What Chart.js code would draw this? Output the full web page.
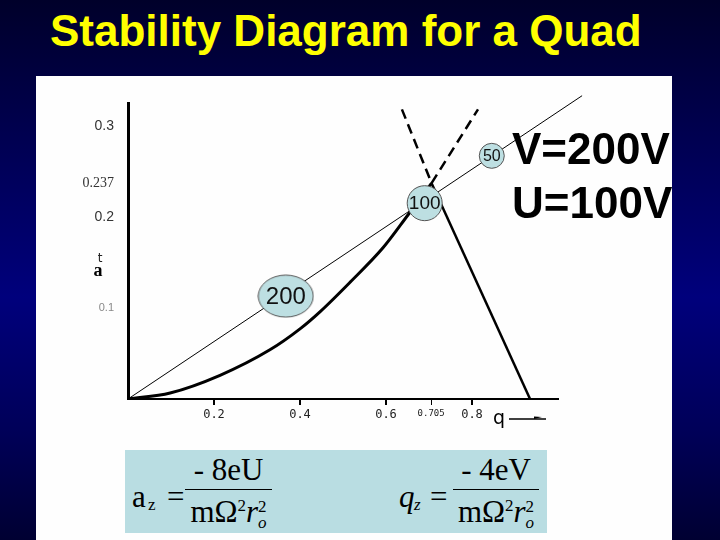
<!DOCTYPE html>
<html>
<head>
<meta charset="utf-8">
<script src="https://cdn.jsdelivr.net/npm/chart.js@4.4.0/dist/chart.umd.min.js"></script>
<style>
  html, body { margin: 0; padding: 0; }
  body {
    width: 720px; height: 540px; position: relative; overflow: hidden;
    background: linear-gradient(to bottom, #00002a 0%, #000050 25%, #00007c 55%, #000058 80%, #000032 100%);
    font-family: "Liberation Sans", Arial, sans-serif;
  }
  #title {
    position: absolute; left: 50px; top: 9px;
    font-size: 44px; font-weight: bold; line-height: 1; color: #ffff00; white-space: nowrap;
  }
  #panel { position: absolute; left: 36px; top: 76px; width: 636px; height: 464px; background: #fefefe; }
  .volt {
    position: absolute; left: 512px; font-size: 44px; font-weight: bold; line-height: 1;
    color: #000; white-space: nowrap;
  }
  #formulas { position: absolute; left: 125px; top: 450px; width: 422px; height: 83px; background: #b9dde2; }
  .f { position: absolute; font-family: "Liberation Serif", "Times New Roman", serif; font-size: 31px;
       line-height: 1; color: #000; white-space: nowrap; }
  .sub { font-size: 17px; }
  .bar { position: absolute; height: 0; border-top: 1.5px solid #000; }
  .ss { display: inline-block; vertical-align: -6px; font-size: 17px; line-height: 0.95; text-align: left; }
  .ss span { display: block; }
</style>
</head>
<body>
<div id="title">Stability Diagram for a Quad</div>
<div id="panel"><canvas id="chart" width="636" height="464"></canvas></div>
<div class="volt" style="top:127px">V=200V</div>
<div class="volt" style="top:181px">U=100V</div>
<div id="formulas">
  <div class="f" style="left:7px; top:31px">a</div>
  <div class="f sub" style="left:23px; top:46px">z</div>
  <div class="f" style="left:42px; top:31px">=</div>
  <div class="f" style="left:60px; top:4px; width:87px; text-align:center">- 8eU</div>
  <div class="bar" style="left:60px; top:39px; width:87px"></div>
  <div class="f" style="left:60px; top:46px; width:87px; text-align:center">m&Omega;<sup style="font-size:17px">2</sup><i>r</i><span class="ss"><span>2</span><span><i>o</i></span></span></div>

  <div class="f" style="left:274px; top:31px"><i>q</i></div>
  <div class="f sub" style="left:289px; top:46px"><i>z</i></div>
  <div class="f" style="left:305px; top:31px">=</div>
  <div class="f" style="left:328px; top:4px; width:86px; text-align:center">- 4eV</div>
  <div class="bar" style="left:328px; top:39px; width:86px"></div>
  <div class="f" style="left:328px; top:46px; width:86px; text-align:center">m&Omega;<sup style="font-size:17px">2</sup><i>r</i><span class="ss"><span>2</span><span><i>o</i></span></span></div>
</div>
<script>
// tick positions on q and a axes
const qTickValues = [0.2, 0.4, 0.6, 0.705, 0.8];
const qTickLabels = ['0.2', '0.4', '0.6', '0.705', '0.8'];
const aTickValues = [0.1, 0.2, 0.237, 0.3];
const aTickLabels = ['0.1', '0.2', '0.237', '0.3'];

// left boundary of the stability region
const leftEdgeQ = [0, 0.098, 0.214, 0.330, 0.400, 0.447, 0.516, 0.593, 0.651, 0.706];
const leftEdgeA = [0, 0.0066, 0.026, 0.054, 0.077, 0.096, 0.128, 0.166, 0.202, 0.237];
// right boundary
const rightEdgeQ = [0.706, 0.935];
const rightEdgeA = [0.237, 0];
// dashed continuations above the apex
const dashLeftQ = [0.637, 0.706];
const dashLeftA = [0.318, 0.237];
const dashRightQ = [0.706, 0.814];
const dashRightA = [0.237, 0.318];
// scan line (fixed U/V)
const scanQ = [0, 1.056];
const scanA = [0, 0.333];
// masses sitting on the scan line
const massLabels = ['200', '100', '50'];
const massQ = [0.367, 0.690, 0.846];
const massA = [0.113, 0.215, 0.267];

const toPoints = (qs, as) => qs.map((q, i) => ({ x: q, y: as[i] }));

// the 200 marker is a slightly flattened ellipse in the original
function ellipseMarker(w, h) {
    const c = document.createElement('canvas');
    c.width = w + 2;
    c.height = h + 2;
    const g = c.getContext('2d');
    g.beginPath();
    g.ellipse(c.width / 2, c.height / 2, w / 2, h / 2, 0, 0, Math.PI * 2);
    g.fillStyle = '#bddfe2';
    g.fill();
    g.lineWidth = 1;
    g.strokeStyle = '#555';
    g.stroke();
    return c;
}

const labelPlugin = {
    id: 'labelPlugin',
    afterDatasetsDraw(chart) {
        const ctx = chart.ctx;
        const meta = chart.getDatasetMeta(0);
        const sizes = [24, 19, 16];
        ctx.save();
        ctx.fillStyle = '#111';
        ctx.textAlign = 'center';
        ctx.textBaseline = 'middle';
        meta.data.forEach((pt, i) => {
            ctx.font = sizes[i] + 'px "Liberation Sans"';
            ctx.fillText(massLabels[i], pt.x, pt.y + 1);
        });

        // axis names: small "t" over bold "a", and "q" with an arrow
        const area = chart.chartArea;
        ctx.font = '12px "DejaVu Sans"';
        ctx.fillStyle = '#222';
        ctx.fillText('t', area.left - 28, area.bottom - 140);
        ctx.font = 'bold 18px "Liberation Serif"';
        ctx.fillStyle = '#000';
        ctx.fillText('a', area.left - 30, area.bottom - 128);

        ctx.font = '19px "DejaVu Sans"';
        ctx.fillText('q', area.left + 371, area.bottom + 20);
        ctx.beginPath();
        ctx.moveTo(area.left + 381, area.bottom + 20);
        ctx.lineTo(area.left + 418, area.bottom + 20);
        ctx.lineWidth = 1.5;
        ctx.strokeStyle = '#000';
        ctx.stroke();
        ctx.beginPath();
        ctx.moveTo(area.left + 414, area.bottom + 18);
        ctx.lineTo(area.left + 406, area.bottom + 17.5);
        ctx.lineTo(area.left + 406, area.bottom + 20);
        ctx.closePath();
        ctx.fill();
        ctx.restore();
    }
};

new Chart(document.getElementById('chart'), {
    type: 'line',
    data: {
        datasets: [
            {
                label: 'masses',
                data: toPoints(massQ, massA),
                showLine: false,
                pointStyle: [ellipseMarker(55, 42), 'circle', 'circle'],
                pointRadius: [21, 17.5, 12.5],
                pointBackgroundColor: '#bddfe2',
                pointBorderColor: '#555',
                pointBorderWidth: 1,
                clip: false
            },
            {
                label: 'scan',
                data: toPoints(scanQ, scanA),
                borderColor: '#000',
                borderWidth: 1,
                pointRadius: 0,
                clip: false
            },
            {
                label: 'left edge',
                data: toPoints(leftEdgeQ, leftEdgeA),
                borderColor: '#000',
                borderWidth: 3,
                pointRadius: 0,
                cubicInterpolationMode: 'monotone'
            },
            {
                label: 'right edge',
                data: toPoints(rightEdgeQ, rightEdgeA),
                borderColor: '#000',
                borderWidth: 2.5,
                pointRadius: 0
            },
            {
                label: 'dash left',
                data: toPoints(dashLeftQ, dashLeftA),
                borderColor: '#000',
                borderWidth: 2.5,
                borderDash: [10, 6],
                pointRadius: 0
            },
            {
                label: 'dash right',
                data: toPoints(dashRightQ, dashRightA),
                borderColor: '#000',
                borderWidth: 2.5,
                borderDash: [10, 6],
                pointRadius: 0
            }
        ]
    },
    options: {
        responsive: false,
        animation: false,
        events: [],
        layout: { padding: { left: 42, top: 27, right: 114, bottom: 111 } },
        plugins: {
            legend: { display: false },
            tooltip: { enabled: false }
        },
        scales: {
            x: {
                type: 'linear',
                min: 0,
                max: 1,
                afterBuildTicks: s => { s.ticks = qTickValues.map(v => ({ value: v })); },
                afterFit: s => { s.height = 30; },
                grid: {
                    drawOnChartArea: false,
                    color: '#000',
                    lineWidth: c => (c.tick && c.tick.value === 0.705 ? 1 : 2),
                    tickLength: 6
                },
                border: { color: '#000', width: 2 },
                ticks: {
                    autoSkip: false,
                    maxRotation: 0,
                    padding: 3,
                    color: '#222',
                    font: c => ({ family: '"DejaVu Sans Mono"', size: c.tick && c.tick.value === 0.705 ? 9 : 12 }),
                    callback: (v, i) => qTickLabels[i]
                }
            },
            y: {
                type: 'linear',
                min: 0,
                max: 0.325,
                afterBuildTicks: s => { s.ticks = aTickValues.map(v => ({ value: v })); },
                afterFit: s => { s.width = 50; },
                grid: { display: false, drawTicks: false },
                border: { color: '#000', width: 3 },
                ticks: {
                    autoSkip: false,
                    padding: 14,
                    color: c => (c.tick && c.tick.value === 0.1 ? '#888' : '#333'),
                    font: c => {
                        const v = c.tick ? c.tick.value : 0;
                        if (v === 0.1) return { family: '"Liberation Sans"', size: 11 };
                        if (v === 0.237) return { family: '"Liberation Serif"', size: 14 };
                        return { family: '"Liberation Sans"', size: 14 };
                    },
                    callback: (v, i) => aTickLabels[i]
                }
            }
        }
    },
    plugins: [labelPlugin]
});
</script>
</body>
</html>
